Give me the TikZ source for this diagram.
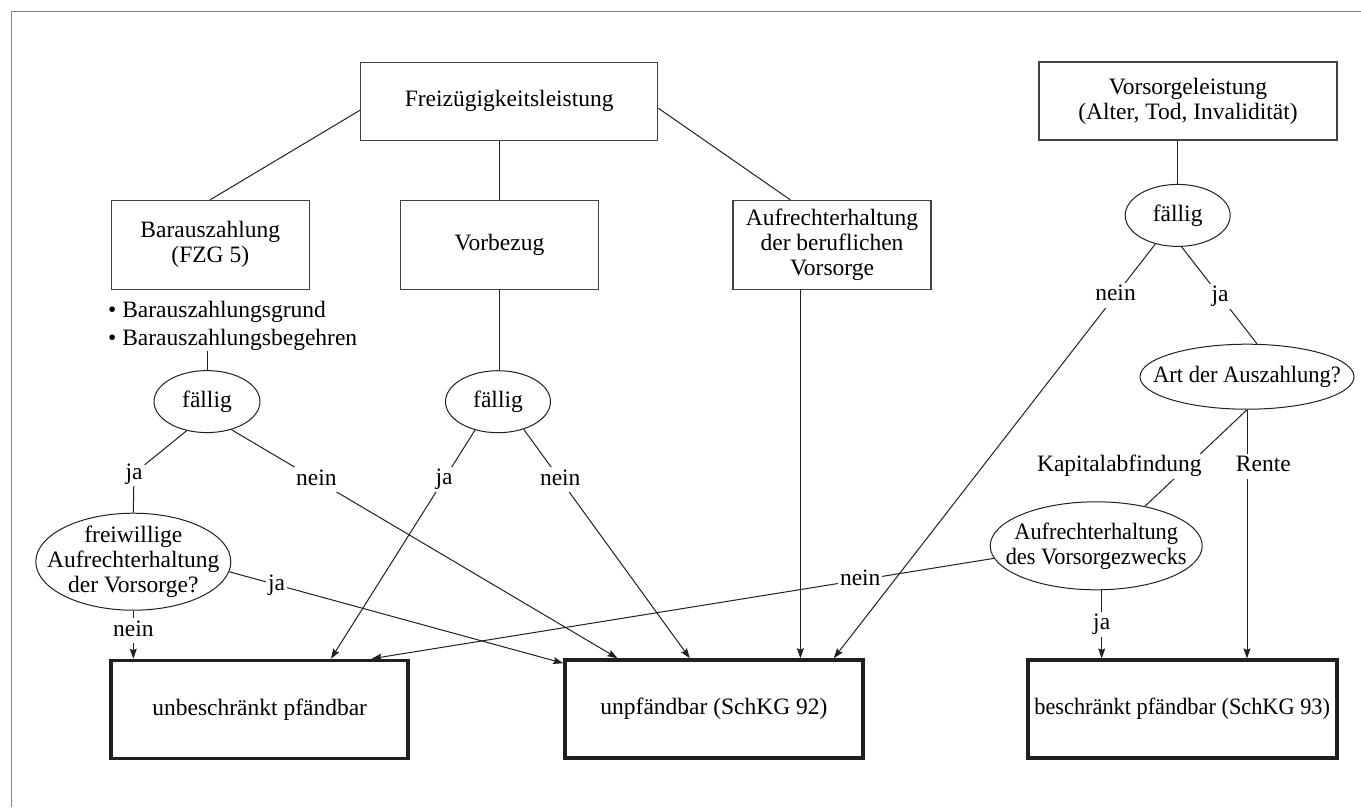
\documentclass[tikz,border=0pt]{standalone}
\usepackage{fontspec}
\setmainfont{Liberation Serif}
\usepackage{graphicx}
\usetikzlibrary{shapes.geometric,arrows.meta,calc}
\definecolor{ink}{HTML}{231F20}
\definecolor{framec}{HTML}{858585}
\begin{document}
\begin{tikzpicture}[x=1pt,y=-1pt,
  font=\fontsize{23.5}{25}\selectfont, text=black,
  box/.style={draw=ink!85, line width=1.2pt, inner sep=2pt, align=center},
  res/.style={draw=ink, line width=3.6pt, inner sep=2pt, align=center, minimum height=98pt},
  ell/.style={ellipse, draw=ink, line width=1pt, inner sep=0pt},
  lbl/.style={fill=white, inner sep=2pt, text height=16pt, text depth=5pt},
  con/.style={draw=ink, line width=1pt},
  arr/.style={con, -{Stealth[length=10pt,width=7pt,inset=1.5pt]}}]

\useasboundingbox (0,0) rectangle (1361,807);
\fill[white] (0,0) rectangle (1361,807);
\draw[framec, line width=1.4pt] (11.5,807) -- (11.5,11.5) -- (1361,11.5);

% rectangular boxes
\node[box, minimum width=297pt, minimum height=78pt] (freiz) at (509.2,101.2) {Freizügigkeitsleistung};
\node[box, minimum width=198pt, minimum height=89pt] (bar) at (210.3,244.8) {Barauszahlung\\(FZG 5)};
\node[box, minimum width=198pt, minimum height=89pt] (vor) at (499.5,244.7) {Vorbezug};
\node[box, minimum width=198pt, minimum height=89pt] (aufr) at (832,245) {Aufrechterhaltung\\der beruflichen\\Vorsorge};
\node[box, minimum width=298pt, minimum height=78pt] (vors) at (1188,101) {Vorsorgeleistung\\(Alter, Tod, Invalidität)};

\node[anchor=north west, inner sep=0pt, align=left, font=\fontsize{23.5}{28}\selectfont] (bul) at (108,301)
  {• Barauszahlungsgrund\\• Barauszahlungsbegehren};

% ellipses
\node[ell, minimum width=106pt, minimum height=62pt, label={center:fällig}] (f1) at (207,401.6) {};
\node[ell, minimum width=105pt, minimum height=62pt, label={center:fällig}] (f2) at (498,401.7) {};
\node[ell, minimum width=105pt, minimum height=62pt, label={center:fällig}] (f3) at (1177.7,215.4) {};
\node[ell, minimum width=195pt, minimum height=97pt, label={[align=center]center:{freiwillige\\Aufrechterhaltung\\der Vorsorge?}}] (frw) at (133.3,561.7) {};
\node[ell, minimum width=214pt, minimum height=65pt, label={center:{\scalebox{0.96}[1]{Art der Auszahlung?}}}] (art) at (1247,376.7) {};
\node[ell, minimum width=212pt, minimum height=88pt, label={[align=center]center:{\scalebox{0.95}[1]{Aufrechterhaltung}\\\scalebox{0.95}[1]{des Vorsorgezwecks}}}] (avz) at (1096.2,545.8) {};

% result boxes
\node[res, minimum width=297pt] (unb) at (259.7,709.5) {unbeschränkt pfändbar};
\node[res, minimum width=298pt] (unp) at (714,709) {unpfändbar (SchKG 92)};
\node[res, minimum width=309pt] (bes) at (1182.2,709.2) {\scalebox{0.95}[1]{beschränkt pfändbar (SchKG 93)}};

% helper coordinates
\coordinate (fzw) at ($(freiz.west)+(0,9)$);
\coordinate (fze) at ($(freiz.east)+(0,7)$);
\coordinate (aufn) at ($(aufr.north west)+(58,0)$);
\coordinate (aufs) at ($(aufr.south west)+(68,0)$);
\coordinate (avzs) at ($(avz.south)+(5.5,0)$);
\coordinate (tU1) at ($(unp.north west)+(0,5)$);
\coordinate (tU2) at ($(unp.north west)+(54.3,0)$);
\coordinate (tU3) at ($(unp.north west)+(126.6,0)$);
\coordinate (tU5) at ($(unp.north west)+(270.6,0)$);
\coordinate (tB2) at ($(unb.north west)+(221.6,0)$);
\coordinate (tB3) at ($(unb.north west)+(262.3,0)$);

% top tree
\draw[con] (fzw) -- (bar.north);
\draw[con] (vor.north) -- (vor.north |- freiz.south);
\draw[con] (fze) -- (aufn);
\draw[con] (f1.north) -- (f1.north |- bul.south);
\draw[con] (vor.south) -- (vor.south |- f2.north);
\draw[con] (f3.north) -- (f3.north |- vors.south);

% left branch
\node[lbl] (ja1) at (134,473.5) {ja};
\draw[con] (f1.235) -- (ja1) -- (frw.north);
\draw[arr] (f1.311) -- node[lbl, pos=0.22] (nein1) {nein} (tU2);
\draw[arr] (frw.354.7) -- node[lbl, pos=0.142] (ja3) {ja} (tU1);
\draw[arr] (frw.south) -- node[lbl, pos=0.42] (nein3) {nein} (frw.south |- unb.north);

% Vorbezug branch
\draw[arr] (f2.231) -- node[lbl, pos=0.215] (ja2) {ja} (tB2);
\draw[arr] (f2.313) -- node[lbl, pos=0.22] (nein2) {nein} (tU3);

% Aufrechterhaltung
\draw[arr] (aufs) -- (aufs |- unp.north);

% right branch
\draw[arr] (f3.232) -- node[lbl, pos=0.124] (nein4) {nein} (tU5);
\draw[con] (f3.277.3) -- node[lbl, pos=0.51] (ja4) {ja} (art.73.5);
\draw[con] (art.south) -- (avz.39);
\node[lbl] (kap) at (1119.3,466.2) {Kapitalabfindung};
\draw[arr] (art.south) -- (art.south |- bes.north);
\node[lbl] (rente) at (1263.3,466.2) {Rente};
\draw[arr] (avzs) -- node[lbl, pos=0.5] (ja5) {ja} (avzs |- bes.north);
\draw[arr] (avz.187.5) -- node[lbl, pos=0.215] (nein5) {nein} (tB3);
\end{tikzpicture}
\end{document}
